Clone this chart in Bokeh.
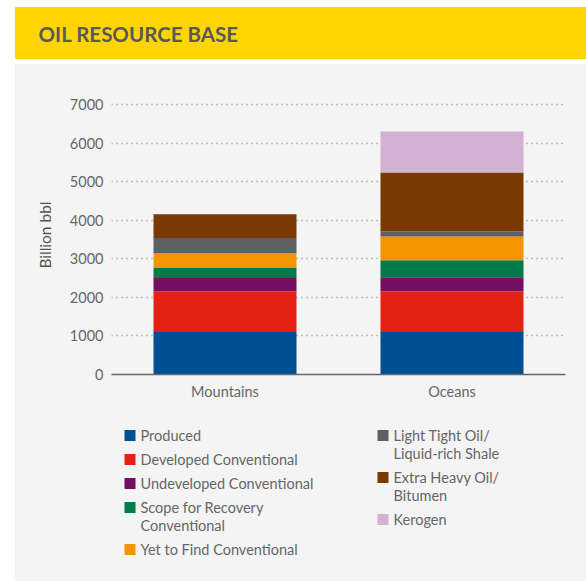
from bokeh.plotting import figure
from bokeh.layouts import column
from bokeh.models import Range1d, FactorRange, FixedTicker, ColumnDataSource
from bokeh.core.properties import value
from bokeh.embed import file_html
from bokeh.resources import INLINE

# ---------------- data ----------------
categories = ["Mountains", "Oceans"]
series_labels = [
    "Produced",
    "Developed Conventional",
    "Undeveloped Conventional",
    "Scope for Recovery\nConventional",
    "Yet to Find Conventional",
    "Light Tight Oil/\nLiquid-rich Shale",
    "Extra Heavy Oil/\nBitumen",
    "Kerogen",
]
produced = [1100, 1100]
developed = [1060, 1060]
undeveloped = [340, 360]
scope = [260, 440]
yet_to_find = [390, 620]
light_tight = [390, 130]
extra_heavy = [615, 1530]
kerogen = [0, 1060]
y_ticks = [0, 1000, 2000, 3000, 4000, 5000, 6000, 7000]

colors = ["#004f92", "#e32213", "#731063", "#007b49", "#f39500",
          "#5e5f63", "#7a3900", "#d3b1d4"]

FONT = "Lato"
BG = "#f4f4f4"
YELLOW = "#ffd500"
TXT = "#666666"
W = 571
BL, BR = 96, 21          # left / right borders shared by all stacked figures

# ---------------- header ----------------
HH = 52
hdr = figure(width=W, height=HH, x_range=Range1d(0, 1), y_range=Range1d(0, 1),
             title="OIL RESOURCE BASE",
             output_backend="svg", toolbar_location=None,
             x_axis_location=None, y_axis_location=None,
             min_border_left=BL, min_border_right=BR, min_border_top=40, min_border_bottom=0,
             background_fill_color=YELLOW, border_fill_color=YELLOW,
             outline_line_color=None, margin=(7, 0, 0, 15),
             styles={"background-color": YELLOW})
hdr.grid.visible = False
hdr.title.text_font = FONT
hdr.title.text_font_style = "bold"
hdr.title.text_font_size = "20.5px"
hdr.title.text_color = "#58585d"
hdr.title.align = "left"
hdr.title.offset = 23 - BL
hdr.title.standoff = 4

# ---------------- main chart ----------------
stack_names = ["produced", "developed", "undeveloped", "scope", "yet_to_find",
               "light_tight", "extra_heavy", "kerogen"]
source = ColumnDataSource(dict(cat=categories, produced=produced, developed=developed,
                               undeveloped=undeveloped, scope=scope,
                               yet_to_find=yet_to_find, light_tight=light_tight,
                               extra_heavy=extra_heavy, kerogen=kerogen))

p = figure(x_range=FactorRange(*categories), y_range=Range1d(0, 7233),
           width=W, height=346, output_backend="svg", toolbar_location=None,
           min_border_left=BL, min_border_right=BR, min_border_top=31,
           min_border_bottom=36, background_fill_color=BG, border_fill_color=BG,
           outline_line_color=None, margin=(5, 0, 0, 15),
           styles={"background-color": BG})
p.vbar_stack(stack_names, x="cat", width=0.63, color=colors, line_color=None,
             source=source)

p.xgrid.grid_line_color = None
p.ygrid.grid_line_color = "#8a8a8a"
p.ygrid.grid_line_dash = "1 4"
p.ygrid.grid_line_width = 1.3

p.yaxis.ticker = FixedTicker(ticks=y_ticks)
p.yaxis.axis_line_color = None
p.yaxis.major_tick_line_color = None
p.yaxis.minor_tick_line_color = None
p.yaxis.major_tick_out = 0
p.yaxis.major_tick_in = 0
p.yaxis.minor_tick_out = 0
p.yaxis.major_label_standoff = 8
p.yaxis.major_label_text_font = FONT
p.yaxis.major_label_text_font_size = "14.5px"
p.yaxis.major_label_text_color = TXT
p.yaxis.axis_label = "Billion bbl"
p.yaxis.axis_label_text_font = FONT
p.yaxis.axis_label_text_font_style = "normal"
p.yaxis.axis_label_text_font_size = "15.5px"
p.yaxis.axis_label_text_color = "#555555"
p.yaxis.axis_label_standoff = 13

p.xaxis.axis_line_color = "#666666"
p.xaxis.axis_line_width = 1.5
p.xaxis.major_tick_line_color = None
p.xaxis.minor_tick_line_color = None
p.xaxis.major_tick_out = 0
p.xaxis.major_tick_in = 0
p.xaxis.major_label_standoff = 8
p.xaxis.major_label_text_font = FONT
p.xaxis.major_label_text_font_size = "14.5px"
p.xaxis.major_label_text_color = TXT

# ---------------- legend ----------------
LH = 171
lg = figure(width=W, height=LH, x_range=Range1d(BL, W - BR), y_range=Range1d(LH, 0),
            output_backend="svg", toolbar_location=None,
            x_axis_location=None, y_axis_location=None,
            min_border_left=BL, min_border_right=BR, min_border_top=0, min_border_bottom=0,
            background_fill_color=BG, border_fill_color=BG,
            outline_line_color=None, margin=(0, 0, 0, 15),
            styles={"background-color": BG})
lg.grid.visible = False

col_split = 5
col_sq_x = [109 + 5.5, 362 + 5.5]
col_tx_x = [125, 378]
sq_x, sq_y, sq_c = [], [], []
tx_x, tx_y, tx_t = [], [], []
for col, idxs in enumerate([range(0, col_split), range(col_split, len(series_labels))]):
    yc = 25.0
    for i in idxs:
        lines = series_labels[i].split("\n")
        sq_x.append(col_sq_x[col]); sq_y.append(yc); sq_c.append(colors[i])
        for k, ln in enumerate(lines):
            tx_x.append(col_tx_x[col]); tx_y.append(yc + 18 * k); tx_t.append(ln)
        yc += 24 + 18 * (len(lines) - 1)

lg.rect(x=sq_x, y=sq_y, width=11, height=11, fill_color=sq_c, line_color=None)
lg.text(x=tx_x, y=tx_y, text=tx_t, text_font=value(FONT), text_font_size="14.5px",
        text_color=TXT, text_baseline="middle", text_align="left")

layout = column(hdr, p, lg)
open("out.html", "w").write(file_html(layout, INLINE))
